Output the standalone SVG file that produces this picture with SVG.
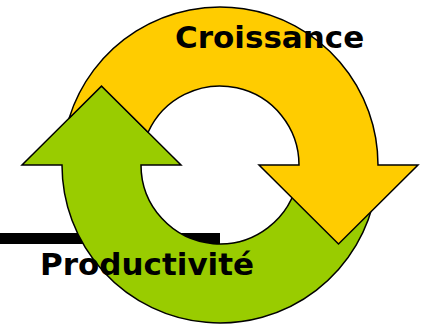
<svg xmlns="http://www.w3.org/2000/svg" width="426" height="325" viewBox="0 0 426 325">
  <style>
    .arrow { stroke: #000; stroke-width: 1.5; stroke-linejoin: miter; }
    .lbl { font-family: "DejaVu Sans", Verdana, sans-serif; font-weight: bold; font-size: 31px; fill: #000; }
  </style>
  <rect id="bar" x="0" y="233" width="220" height="11" fill="#000"/>
  <g id="productivite">
    <path class="arrow" fill="#99CC00" d="M 375.6,192.4 A 158 158 0 0 1 62,165 L 22,165 L 101.5,86 L 181,165 L 141,165 A 79 79 0 0 0 297.8,178.7 Z"/>
    <text class="lbl" x="40" y="274.5">Productivité</text>
  </g>
  <g id="croissance">
    <path class="arrow" fill="#FFCC00" d="M 69.1,118.2 A 158 158 0 0 1 378,165 L 418,165 L 338.5,244 L 259,165 L 299,165 A 79 79 0 0 0 148.1,132.3 L 101.5,86 Z"/>
    <text class="lbl" x="175" y="47.5">Croissance</text>
  </g>
  <g id="connectors"/>
</svg>
